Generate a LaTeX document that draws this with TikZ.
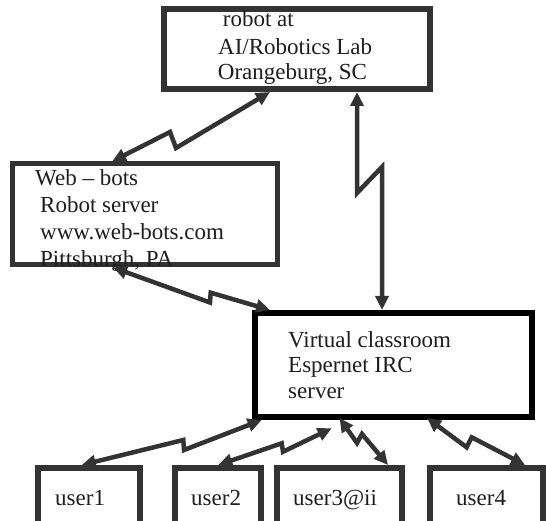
\documentclass[tikz,border=0pt]{standalone}
\usepackage{fontspec}
\setmainfont{Liberation Serif}
\usetikzlibrary{arrows.meta,calc}
\definecolor{ink}{HTML}{333333}
\definecolor{txt}{HTML}{1E1E1E}
\begin{document}
\begin{tikzpicture}[x=1pt,y=-1pt,
  panel/.style={draw=ink,rectangle,inner sep=0pt,line width=#1},
  caption/.style={anchor=base west,inner sep=0pt,text=txt,
    font=\fontsize{23}{26}\selectfont},
  bolt/.style={draw=ink,line width=4.5pt,line join=miter,
    {Triangle[length=14pt,width=13pt]}-{Triangle[length=14pt,width=13pt]}}]

% page area
\fill[white] (0,0) rectangle (546,521);
\useasboundingbox (0,0) rectangle (546,521);

% boxes
\node[panel=6pt,minimum width=266pt,minimum height=79.5pt] (robot) at (296.5,49.25) {};
\node[panel=5pt,minimum width=265pt,minimum height=101pt] (web) at (145,214.5) {};
\node[panel=6pt,draw=black,minimum width=277pt,minimum height=104pt] (irc) at (393,365) {};
\node[panel=6pt,minimum width=102pt,minimum height=80pt] (u1) at (89,508) {};
\node[panel=6pt,minimum width=86pt,minimum height=80pt] (u2) at (218,508) {};
\node[panel=6pt,minimum width=125pt,minimum height=80pt] (u3) at (339.5,508) {};
\node[panel=6pt,minimum width=113pt,minimum height=80pt] (u4) at (486.5,508) {};

% box texts
\node[caption] (robotA) at (222.7,27) {robot at};
\node[caption] (robotB) at (218,54.5) {AI/Robotics Lab};
\node[caption] (robotC) at (217.7,79.5) {Orangeburg, SC};

\node[caption] (webA) at (35,186) {Web -- bots};
\node[caption] (webB) at (40,213) {Robot server};
\node[caption] (webC) at (40,239.5) {www.web-bots.com};
\node[caption] (webD) at (40,266.5) {Pittsburgh, PA};

\node[caption] (ircA) at (288,347.3) {Virtual classroom};
\node[caption] (ircB) at (288,372.7) {Espernet IRC};
\node[caption] (ircC) at (288,398) {server};

\node[caption] (u1t) at (55,505) {user1};
\node[caption] (u2t) at (191,505) {user2};
\node[caption] (u3t) at (293,505) {user3@ii};
\node[caption] (u4t) at (456,505) {user4};

% connector end points on the box edges
\coordinate (r1) at ($(robot.south west)+(109.5,0)$);
\coordinate (r2) at ($(robot.south west)+(196.5,0)$);
\coordinate (w1) at ($(web.north west)+(102,0)$);
\coordinate (w2) at ($(web.south west)+(103,0)$);
\coordinate (i1) at ($(irc.north west)+(130.5,0)$);
\coordinate (i2) at ($(irc.north west)+(18.5,0)$);
\coordinate (i3) at ($(irc.south west)+(10.2,0)$);
\coordinate (i4) at ($(irc.south west)+(80.2,8.3)$);
\coordinate (i5) at ($(irc.south west)+(88,-2)$);
\coordinate (i6) at ($(irc.south west)+(175.5,-2)$);
\coordinate (p1) at ($(u1.north west)+(46.7,0)$);
\coordinate (p2) at ($(u2.north west)+(46.3,0)$);
\coordinate (p3) at ($(u3.north west)+(114,0)$);
\coordinate (p4) at ($(u4.north west)+(98,0)$);

% lightning links
\draw[bolt] (w1) -- (170,132) -- (176,148) -- (r1);
\draw[bolt] (r2) -- (357,193) -- (382,167) -- (i1);
\draw[bolt] (w2) -- (210,302.5) -- (210.7,292.7) -- (i2);
\draw[bolt] (p1) -- (183.3,440) -- (184,450) -- (i3);
\draw[bolt] (p2) -- (281.7,443.3) -- (283,451.7) -- (i4);
\draw[bolt] (i5) -- (357,443) -- (362,434) -- (p3);
\draw[bolt] (i6) -- (466.7,447.3) -- (471.7,437.3) -- (p4);
\end{tikzpicture}
\end{document}
